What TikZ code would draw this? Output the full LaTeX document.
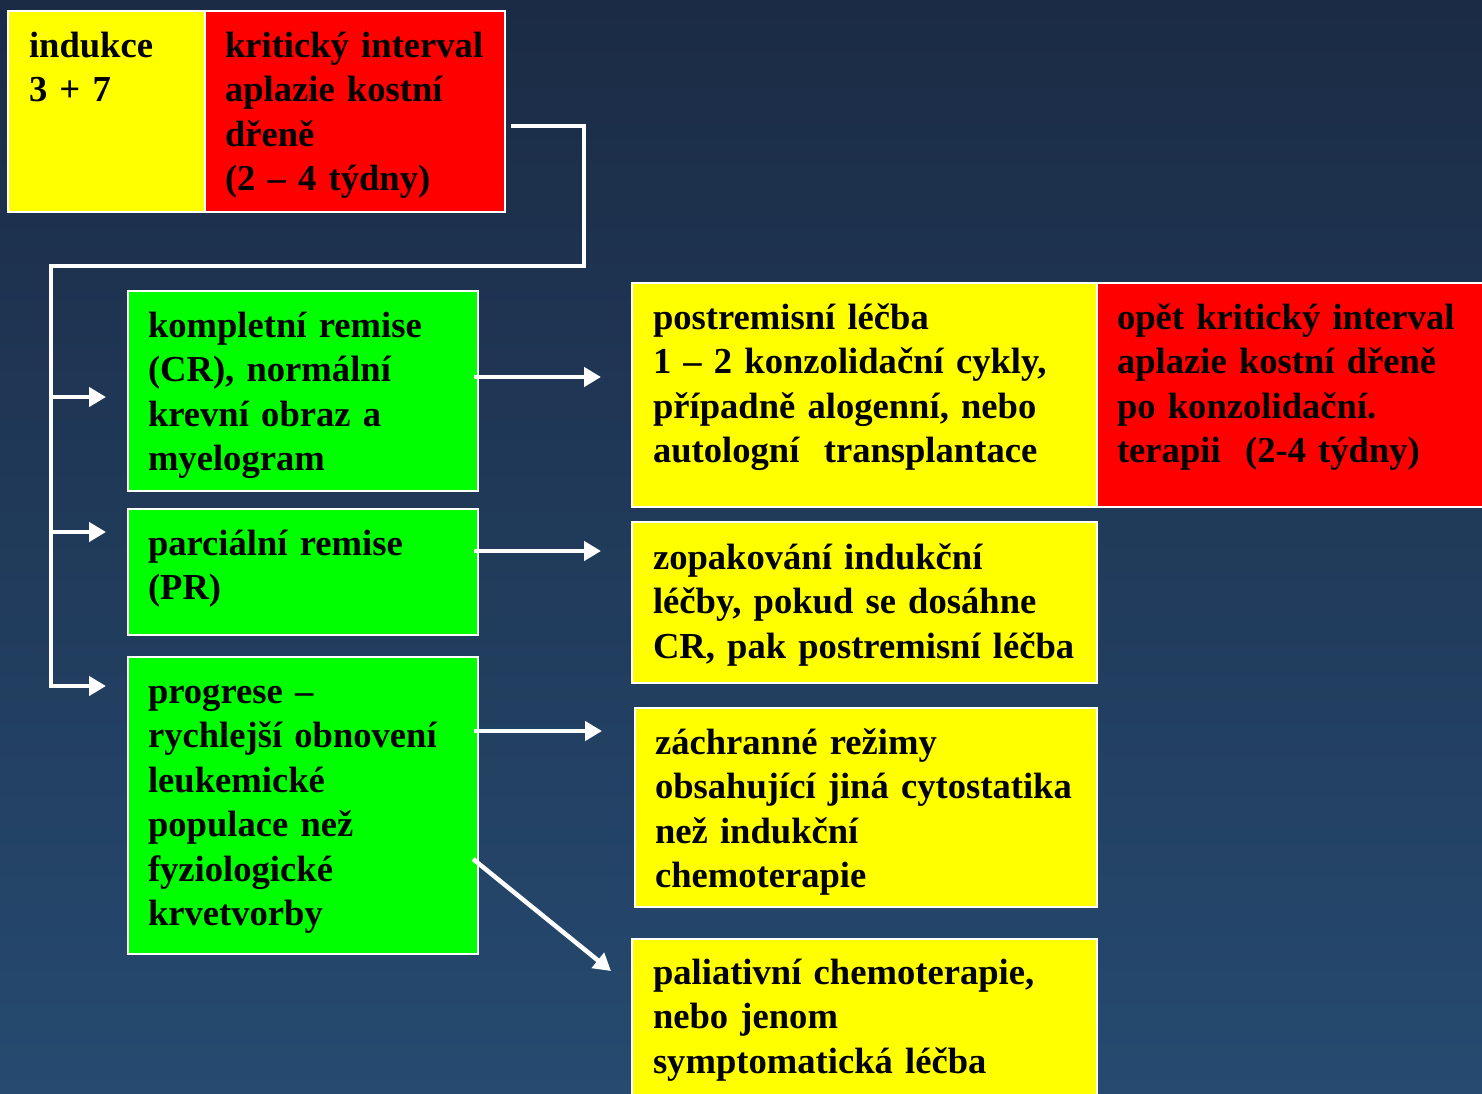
\documentclass[tikz,border=0pt]{standalone}
\usepackage{fontspec}
\setmainfont{Liberation Serif}
\usetikzlibrary{arrows.meta}
\definecolor{bgtop}{HTML}{1B2B45}
\definecolor{bgbot}{HTML}{264A70}
\definecolor{ylw}{HTML}{FFFF00}
\definecolor{rd}{HTML}{FF0000}
\definecolor{grn}{HTML}{00FF00}
\newcommand\bigfnt{\fontsize{36.6}{44.5}\selectfont\bfseries}
\tikzset{
  box/.style={draw=white, line width=1.5pt, inner sep=0pt, outer sep=0pt, anchor=north west},
  txt/.style={anchor=base west, inner sep=0pt, outer sep=0pt, text width=470pt, align=left, font=\bigfnt, text=black},
  conn/.style={draw=white, line width=4.5pt},
  arr/.style={conn, -{Triangle[length=17pt,width=19pt]}}
}
\begin{document}
\begin{tikzpicture}[x=1pt,y=-1pt]
\useasboundingbox (0,0) rectangle (1482,1093);
\shade[top color=bgtop, bottom color=bgbot] (0,0) rectangle (1482,1093);
\clip (0,0) rectangle (1482,1093);
% top boxes
\node[box, fill=ylw, minimum width=197pt, minimum height=201pt] (ind) at (8,11) {};
\node[box, fill=rd, minimum width=300pt, minimum height=201pt] (krit) at (205,11) {};
\node[txt] (indt) at (29,57) {indukce\\3 + 7};
\node[txt] (kritt) at (225,57) {kritický interval\\aplazie kostní\\dřeně\\(2 – 4 týdny)};
% green boxes
\node[box, fill=grn, minimum width=350pt, minimum height=200pt] (cr) at (128,291) {};
\node[box, fill=grn, minimum width=350pt, minimum height=126pt] (pr) at (128,509) {};
\node[box, fill=grn, minimum width=350pt, minimum height=297pt] (prog) at (128,657) {};
\node[txt] (crt) at (148,337) {kompletní remise\\(CR), normální\\krevní obraz a\\myelogram};
\node[txt] (prt) at (148,555) {parciální remise\\(PR)};
\node[txt] (progt) at (148,703) {progrese –\\rychlejší obnovení\\leukemické\\populace než\\fyziologické\\krvetvorby};
% right boxes
\node[box, fill=ylw, minimum width=465pt, minimum height=224pt] (post) at (632,283) {};
\node[box, fill=rd, minimum width=400pt, minimum height=224pt] (opet) at (1097,283) {};
\node[box, fill=ylw, minimum width=465pt, minimum height=161pt] (zop) at (632,522) {};
\node[box, fill=ylw, minimum width=462pt, minimum height=199pt] (zach) at (635,708) {};
\node[box, fill=ylw, minimum width=465pt, minimum height=170pt] (pal) at (632,939) {};
\node[txt] (postt) at (653,329) {postremisní léčba\\1 – 2 konzolidační cykly,\\případně alogenní, nebo\\autologní~ transplantace};
\node[txt] (opett) at (1117,329) {opět kritický interval\\aplazie kostní dřeně\\po konzolidační.\\terapii~ (2-4 týdny)};
\node[txt] (zopt) at (653,569) {zopakování indukční\\léčby, pokud se dosáhne\\CR, pak postremisní léčba};
\node[txt] (zacht) at (655,754) {záchranné režimy\\obsahující jiná cytostatika\\než indukční\\chemoterapie};
\node[txt] (palt) at (653,984) {paliativní chemoterapie,\\nebo jenom\\symptomatická léčba};
% connector coordinates
\coordinate (s) at (511,126);
\coordinate (c1) at (584,126);
\coordinate (c2) at (584,266);
\coordinate (c3) at (51,266);
\coordinate (c4) at (51,688);
\coordinate (b1) at (51,397);
\coordinate (b2) at (51,532);
\coordinate (b3) at (51,686);
\coordinate (e1) at (106,397);
\coordinate (e2) at (106,532);
\coordinate (e3) at (106,686);
\draw[conn] (s) -- (c1) -- (c2) -- (c3) -- (c4);
\draw[arr] (b1) -- (e1);
\draw[arr] (b2) -- (e2);
\draw[arr] (b3) -- (e3);
% right arrows
\coordinate (r1s) at (474,377); \coordinate (r1e) at (601,377);
\coordinate (r2s) at (474,551); \coordinate (r2e) at (601,551);
\coordinate (r3s) at (474,731); \coordinate (r3e) at (602,731);
\coordinate (r4s) at (473,859); \coordinate (r4e) at (611,971);
\draw[arr] (r1s) -- (r1e);
\draw[arr] (r2s) -- (r2e);
\draw[arr] (r3s) -- (r3e);
\draw[arr] (r4s) -- (r4e);
\end{tikzpicture}
\end{document}
